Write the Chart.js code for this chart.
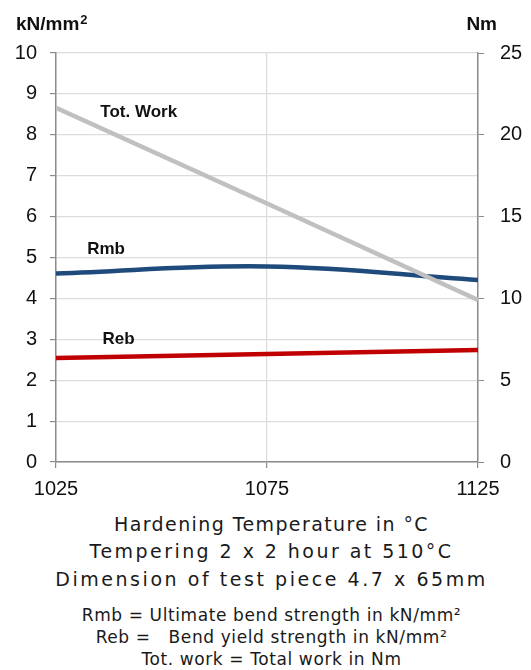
<!DOCTYPE html>
<html>
<head>
<meta charset="utf-8">
<script src="https://cdn.jsdelivr.net/npm/chart.js@4"></script>
<style>
    html, body { margin: 0; padding: 0; background: #fff; }
    body { width: 531px; height: 670px; position: relative; overflow: hidden; }
    #chart-wrap { position: absolute; left: 0; top: 0; width: 531px; height: 505px; }
    .caption {
        position: absolute; left: 6px; width: 531px; text-align: center;
        font-family: "DejaVu Sans", sans-serif; color: #1a1a1a; white-space: nowrap;
        line-height: 1;
    }
    .big { font-size: 19px; }
    .small { font-size: 17px; letter-spacing: 0.6px; }
</style>
</head>
<body>
<div id="chart-wrap"><canvas id="hardening-chart" width="531" height="505"></canvas></div>
<div class="caption big" style="top:515px; letter-spacing:1.4px;">Hardening Temperature in °C</div>
<div class="caption big" style="top:542px; letter-spacing:2.45px;">Tempering 2 x 2 hour at 510°C</div>
<div class="caption big" style="top:570px; letter-spacing:2.55px;">Dimension of test piece 4.7 x 65mm</div>
<div class="caption small" style="top:607px;">Rmb = Ultimate bend strength in kN/mm²</div>
<div class="caption small" style="top:629px;">Reb = &nbsp; Bend yield strength in kN/mm²</div>
<div class="caption small" style="top:651px;">Tot. work = Total work in Nm</div>

<script>
// hardening temperature (°C)
const temps = [1025, 1075, 1125];
// left axis, kN/mm²
const rmb = [4.61, 4.78, 4.45];
const reb = [2.54, 2.64, 2.74];
// right axis, Nm
const totWork = [21.65, 15.8, 9.9];

// series name labels, anchored in data space (x = temp, y = kN/mm²)
const seriesNames = ['Tot. Work', 'Rmb', 'Reb'];
const nameX = [1035.5, 1032.4, 1036.0];
const nameY = [8.54, 5.19, 2.99];

const leftTicks = [0, 1, 2, 3, 4, 5, 6, 7, 8, 9, 10];
const rightTicks = [0, 5, 10, 15, 20, 25];

const axisGray = '#8c8c8c';
const gridGray = '#dcdcdc';
const labelFont = '"Liberation Sans", Arial, sans-serif';

const toPoints = (vals) => vals.map((v, i) => ({ x: temps[i], y: v }));

const seriesLabels = {
    id: 'seriesLabels',
    afterDatasetsDraw(chart) {
        const { ctx, scales } = chart;
        ctx.save();
        ctx.fillStyle = '#111';
        ctx.textBaseline = 'middle';
        ctx.textAlign = 'left';
        ctx.font = 'bold 17px ' + labelFont;
        seriesNames.forEach((name, i) => {
            ctx.fillText(name, scales.x.getPixelForValue(nameX[i]), scales.y.getPixelForValue(nameY[i]));
        });
        // unit titles above each axis
        ctx.font = 'bold 19px ' + labelFont;
        ctx.fillText('kN/mm', 16, 25);
        const w = ctx.measureText('kN/mm').width;
        ctx.font = 'bold 13px ' + labelFont;
        ctx.fillText('2', 16 + w + 1, 20);
        ctx.font = 'bold 19px ' + labelFont;
        ctx.textAlign = 'right';
        ctx.fillText('Nm', 497, 25);
        ctx.restore();
    }
};

new Chart(document.getElementById('hardening-chart'), {
    type: 'line',
    data: {
        datasets: [
            {
                label: 'Tot. Work',
                data: toPoints(totWork),
                yAxisID: 'y2',
                borderColor: '#c0c0c0',
                borderWidth: 4.5,
                pointRadius: 0,
                tension: 0
            },
            {
                label: 'Rmb',
                data: toPoints(rmb),
                yAxisID: 'y',
                borderColor: '#1f4a7c',
                borderWidth: 4.5,
                pointRadius: 0,
                tension: 0.4
            },
            {
                label: 'Reb',
                data: toPoints(reb),
                yAxisID: 'y',
                borderColor: '#c00000',
                borderWidth: 4.5,
                pointRadius: 0,
                tension: 0
            }
        ]
    },
    options: {
        responsive: false,
        animation: false,
        layout: { padding: { top: 53, left: 0, right: 0, bottom: 0 } },
        plugins: {
            legend: { display: false },
            tooltip: { enabled: false }
        },
        scales: {
            x: {
                type: 'linear',
                min: temps[0],
                max: temps[temps.length - 1],
                afterBuildTicks: (scale) => { scale.ticks = temps.map(v => ({ value: v })); },
                afterFit: (scale) => { scale.height = 43; },
                border: { color: axisGray, width: 1.5 },
                grid: { color: gridGray, tickColor: axisGray, tickLength: 6, lineWidth: 1.2 },
                ticks: {
                    padding: 9,
                    color: '#111',
                    font: { family: labelFont, size: 20 },
                    maxRotation: 0,
                    callback: (v) => String(v)
                }
            },
            y: {
                position: 'left',
                min: 0,
                max: 10,
                afterBuildTicks: (scale) => { scale.ticks = leftTicks.map(v => ({ value: v })); },
                afterFit: (scale) => { scale.width = 56; },
                border: { color: axisGray, width: 1.5 },
                grid: { color: gridGray, tickColor: axisGray, tickLength: 6, lineWidth: 1.2 },
                ticks: {
                    padding: 13,
                    color: '#111',
                    font: { family: labelFont, size: 20 }
                }
            },
            y2: {
                position: 'right',
                min: 0,
                max: 25,
                afterBuildTicks: (scale) => { scale.ticks = rightTicks.map(v => ({ value: v })); },
                afterFit: (scale) => { scale.width = 53; },
                border: { color: axisGray, width: 1.5 },
                grid: { drawOnChartArea: false, tickColor: axisGray, tickLength: 6 },
                ticks: {
                    padding: 16,
                    color: '#111',
                    font: { family: labelFont, size: 20 }
                }
            }
        }
    },
    plugins: [seriesLabels]
});
</script>
</body>
</html>
